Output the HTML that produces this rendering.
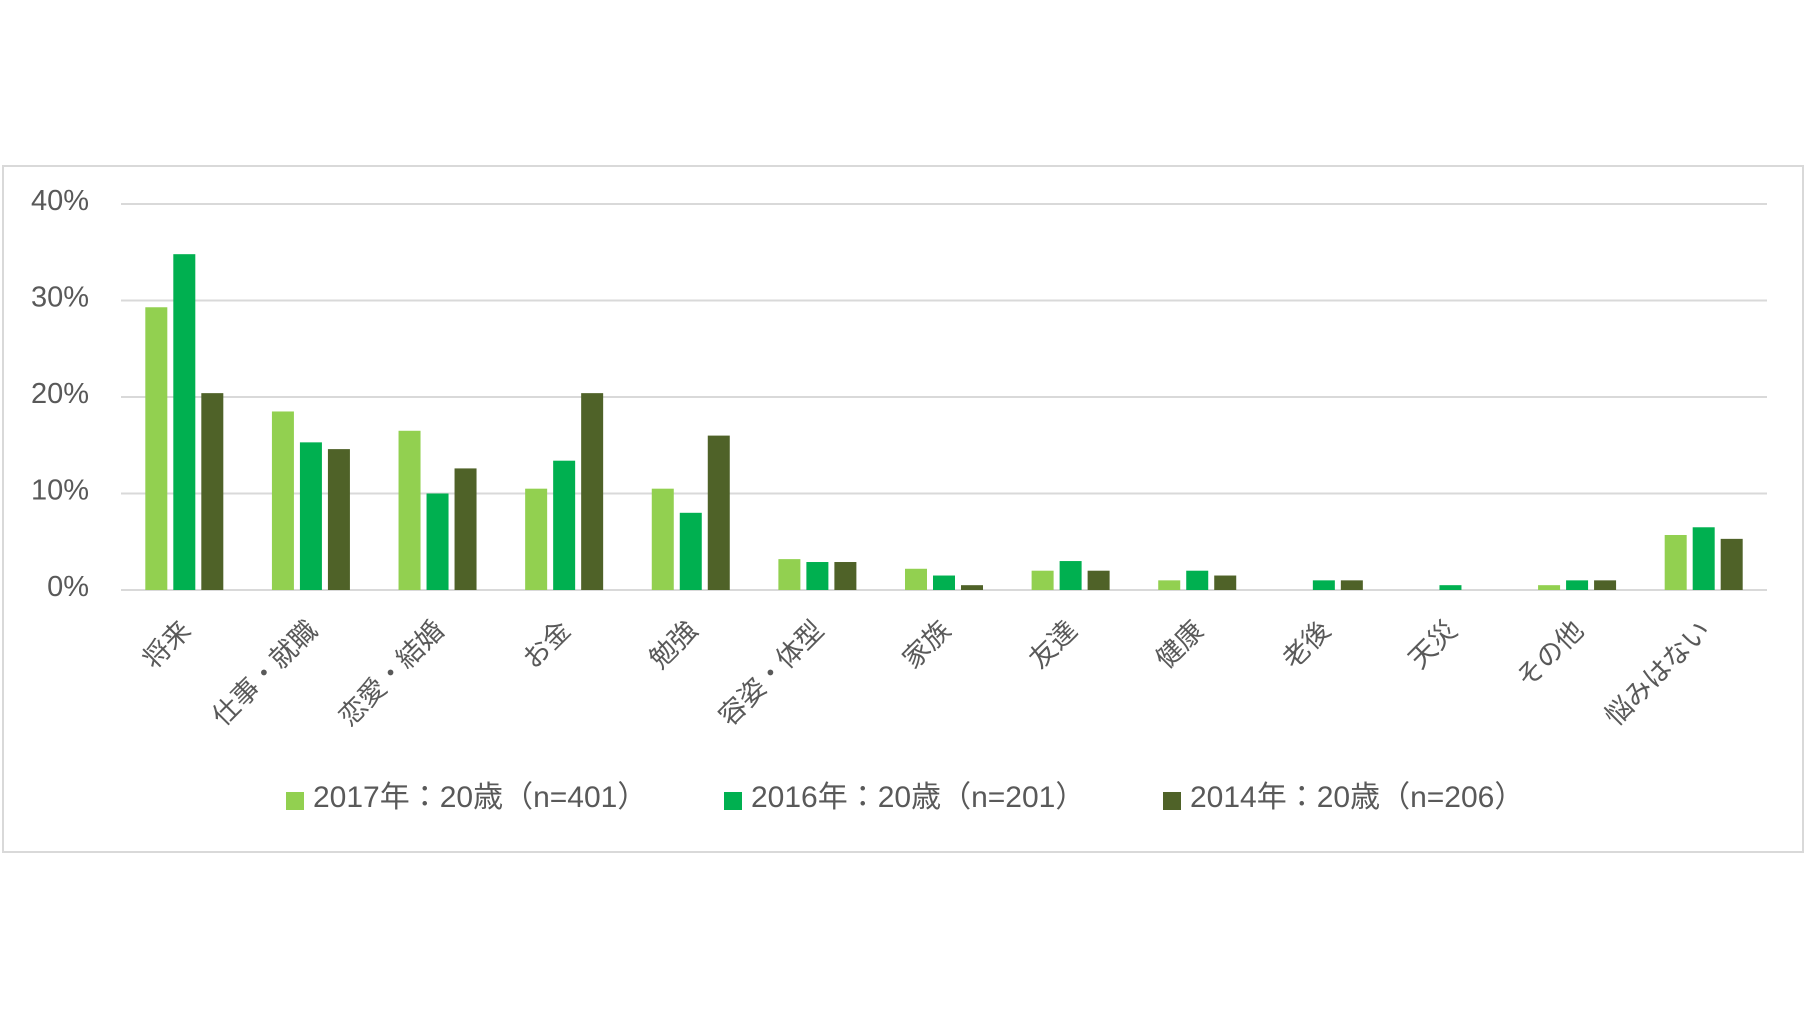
<!DOCTYPE html>
<html><head><meta charset="utf-8">
<style>
body{margin:0;background:#fff;}
svg{display:block;font-family:"Liberation Sans","Noto Sans CJK JP",sans-serif;}
</style></head>
<body>
<svg id="chart" width="1807" height="1018" viewBox="0 0 1807 1018">
<rect x="3" y="166" width="1800" height="686" fill="#fff" stroke="#d9d9d9" stroke-width="2"/>
<g id="grid"></g><g id="bars"></g><g id="xlabels"></g><g id="legend"></g>
</svg>
<script>
const categories=["将来","仕事・就職","恋愛・結婚","お金","勉強","容姿・体型","家族","友達","健康","老後","天災","その他","悩みはない"];
const s2017=[29.3,18.5,16.5,10.5,10.5,3.2,2.2,2.0,1.0,0,0,0.5,5.7];
const s2016=[34.8,15.3,10.0,13.4,8.0,2.9,1.5,3.0,2.0,1.0,0.5,1.0,6.5];
const s2014=[20.4,14.6,12.6,20.4,16.0,2.9,0.5,2.0,1.5,1.0,0,1.0,5.3];
const seriesNames=["2017年：20歳（n=401）","2016年：20歳（n=201）","2014年：20歳（n=206）"];
const yTicks=[0,10,20,30,40];
const colors=["#92d050","#00b050","#4f6228"];
const NS="http://www.w3.org/2000/svg";
const x0=121,x1=1767,y0=590,yTop=204,yMax=40;
const y=v=>y0-(v/yMax)*(y0-yTop);
const bandW=(x1-x0)/categories.length;
const xc=i=>x0+bandW*(i+0.5);
function mk(tag,attrs,parent){const e=document.createElementNS(NS,tag);for(const k in attrs)e.setAttribute(k,attrs[k]);parent.appendChild(e);return e;}
const grid=document.getElementById('grid');
yTicks.forEach(t=>{
  const l=mk('line',{x1:x0,x2:x1,y1:y(t),y2:y(t),stroke:'#d9d9d9','stroke-width':2},grid);
  
  
  const tx=mk('text',{x:89,y:y(t)+6,'text-anchor':'end','font-size':29,fill:'#595959'},grid);
  tx.textContent=t+'%';
  
  
});
const bars=document.getElementById('bars');
const series=[s2017,s2016,s2014];
const bw=22,step=28;
series.forEach((s,si)=>{
  s.forEach((v,i)=>{
    if(v<=0)return;
    const cx=xc(i)+(si-1)*step;
    const r=mk('rect',{x:cx-bw/2,y:y(v),width:bw,height:y0-y(v),fill:colors[si]},bars);
    
    
  });
});
const xl=document.getElementById('xlabels');
categories.forEach((c,i)=>{
  const tx=mk('text',{x:0,y:0,'text-anchor':'end','font-size':27,fill:'#595959',transform:`translate(${xc(i)+8},${y0+42}) rotate(-45)`},xl);
  tx.textContent=c;
  
  
});
const lg=document.getElementById('legend');
const lx=[286,724,1163];
seriesNames.forEach((n,i)=>{
  const r=mk('rect',{x:lx[i],y:792,width:18,height:18,fill:colors[i]},lg);
  
  
  const t=mk('text',{x:lx[i]+27,y:807,'font-size':30,fill:'#595959'},lg);
  t.textContent=n;
  
  
});
</script>
</body></html>
